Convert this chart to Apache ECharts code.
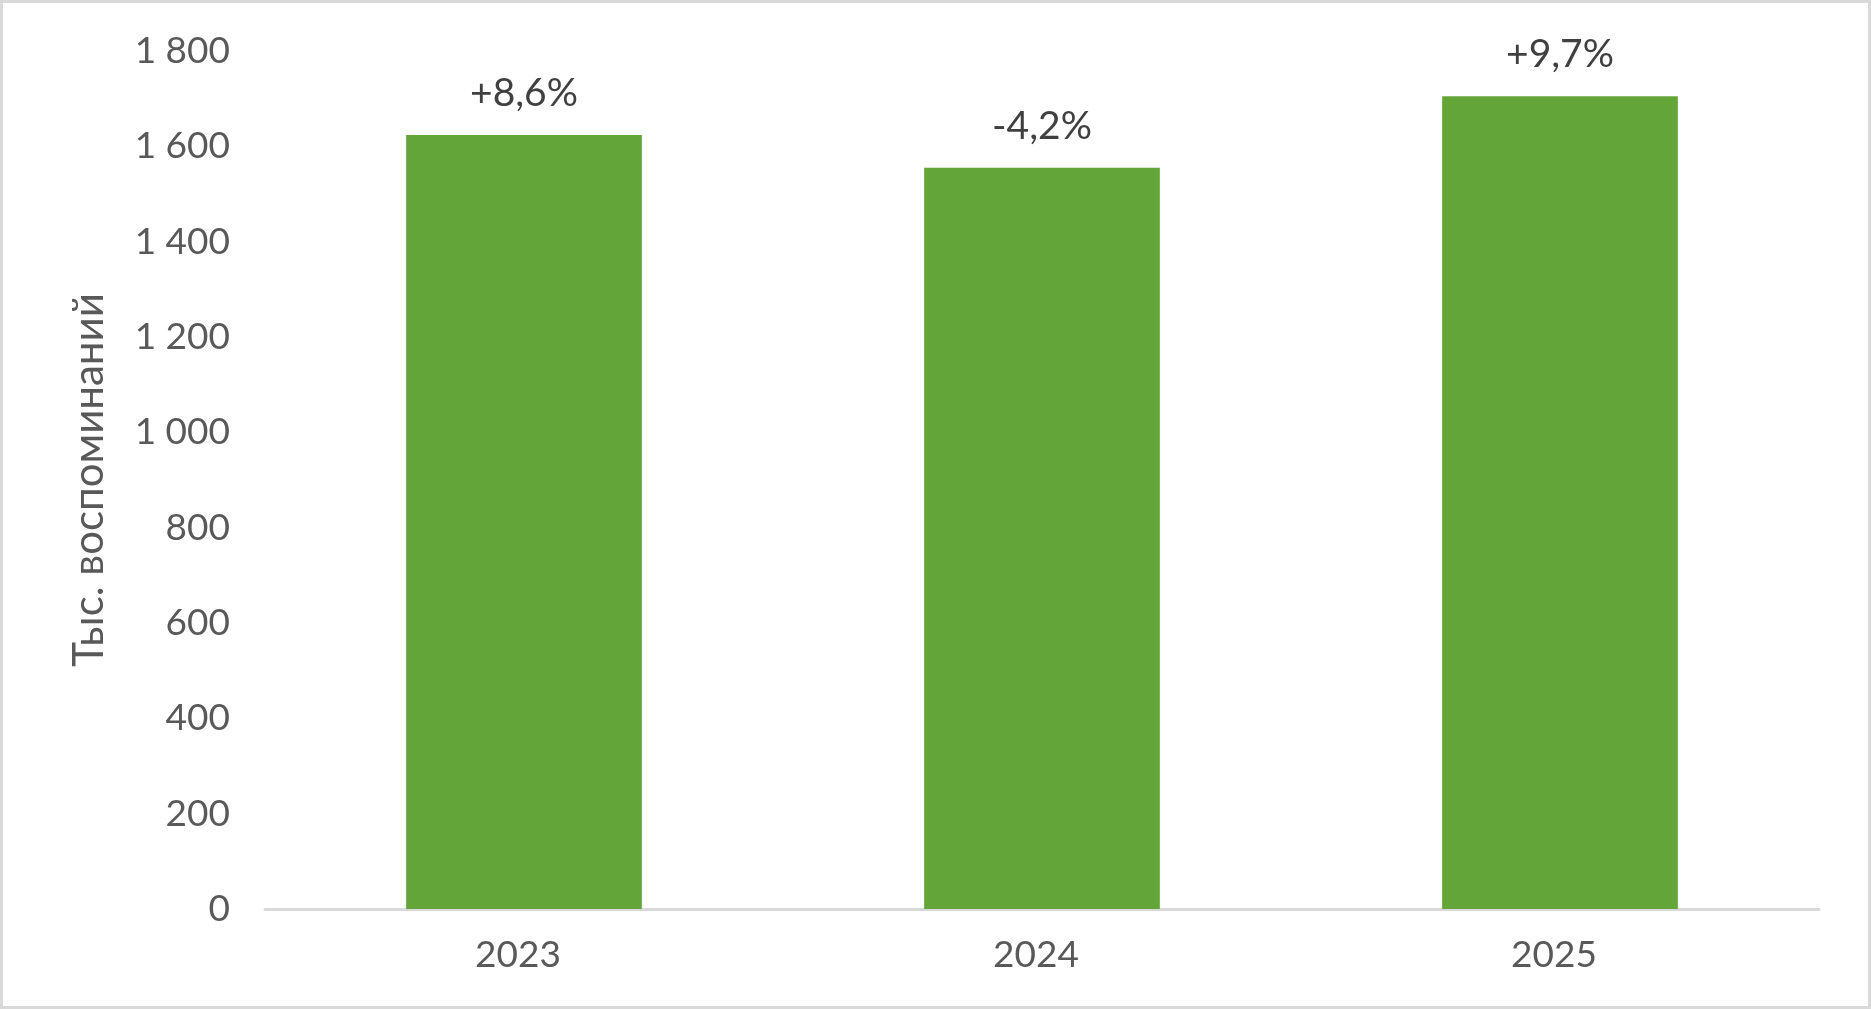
<!DOCTYPE html>
<html>
<head>
<meta charset="utf-8">
<script src="https://cdn.jsdelivr.net/npm/echarts@6/dist/echarts.min.js"></script>
<style>
  html, body { margin: 0; padding: 0; background: #fff; }
  #grafico { width: 1871px; height: 1009px; }
</style>
</head>
<body>
<div id="grafico"></div>
<script>
// Datos del gráfico
const anios = ['2023', '2024', '2025'];
const recuerdos = [1624, 1555, 1705];
const variaciones = ['+8,6%', '-4,2%', '+9,7%'];
const ticksY = [0, 200, 400, 600, 800, 1000, 1200, 1400, 1600, 1800];

const fuente = 'Lato, "Noto Sans", sans-serif';

// Formato con espacio como separador de miles: 1 800
function formatoMiles(valor) {
    return String(valor).replace(/\B(?=(\d{3})+(?!\d))/g, ' ');
}

const chart = echarts.init(document.getElementById('grafico'));

const option = {
    backgroundColor: '#ffffff',
    animation: false,
    graphic: [{
        type: 'rect',
        shape: { x: 1.5, y: 1.5, width: 1868, height: 1006 },
        style: { fill: 'none', stroke: '#d9d9d9', lineWidth: 3 },
        silent: true
    }],
    grid: {
        left: 265,
        right: 52,
        top: 51,
        bottom: 100
    },
    xAxis: {
        type: 'category',
        data: anios,
        axisLine: { lineStyle: { color: '#d9d9d9', width: 3 } },
        axisTick: { show: false },
        axisLabel: {
            color: '#595959',
            fontFamily: fuente,
            fontSize: 37,
            margin: 28,
            padding: [0, 12, 0, 0]
        }
    },
    yAxis: {
        type: 'value',
        min: ticksY[0],
        max: ticksY[ticksY.length - 1],
        interval: 200,
        name: 'Тыс. воспоминаний',
        nameLocation: 'middle',
        nameGap: 155,
        nameTextStyle: {
            color: '#595959',
            fontFamily: fuente,
            fontSize: 42
        },
        axisLine: { show: false },
        axisTick: { show: false },
        splitLine: { show: false },
        axisLabel: {
            color: '#595959',
            fontFamily: fuente,
            fontSize: 37,
            margin: 35,
            formatter: formatoMiles
        }
    },
    series: [{
        type: 'bar',
        data: recuerdos,
        barWidth: '45.5%',
        itemStyle: { color: '#63a538' },
        label: {
            show: true,
            position: 'top',
            distance: 22,
            color: '#404040',
            fontFamily: fuente,
            fontSize: 39,
            formatter: function (param) {
                return variaciones[param.dataIndex];
            }
        }
    }]
};

chart.setOption(option);
</script>
</body>
</html>
